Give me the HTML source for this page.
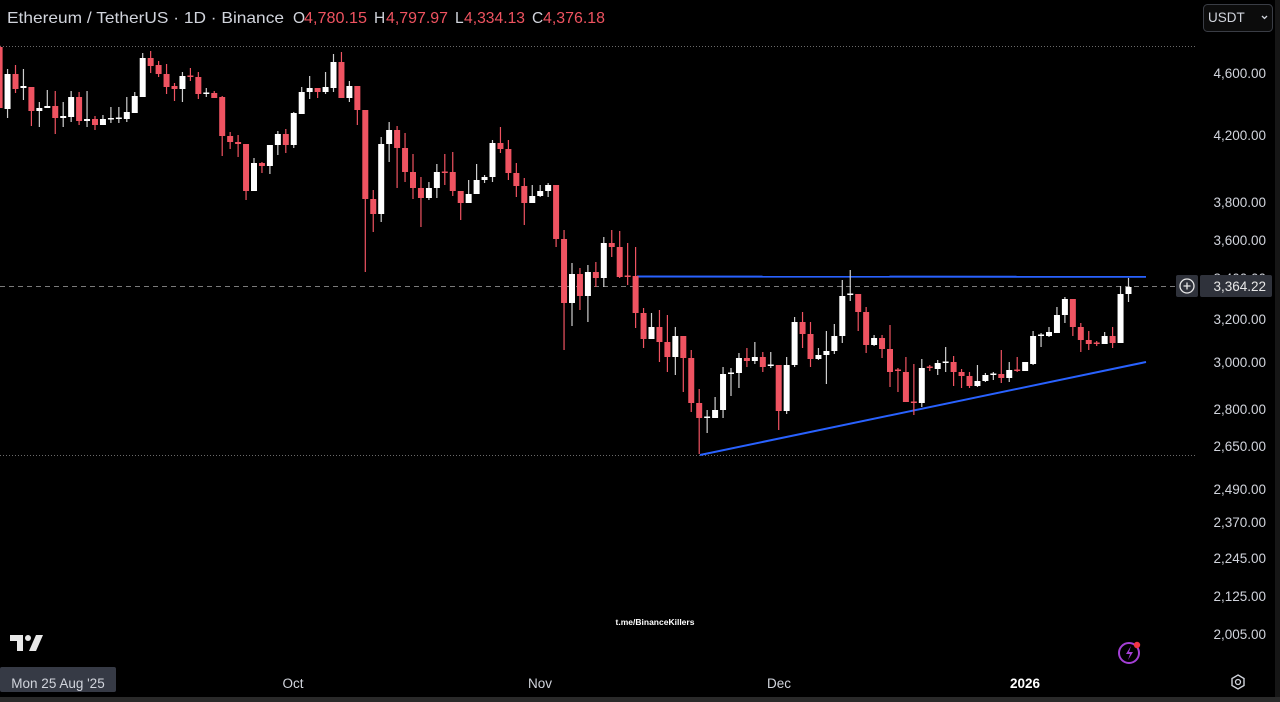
<!DOCTYPE html>
<html><head><meta charset="utf-8"><style>
html,body{margin:0;padding:0;background:#000;width:1280px;height:702px;overflow:hidden}
svg{display:block}
text{font-family:"Liberation Sans",sans-serif}
</style></head><body>
<svg id="c" width="1280" height="702" viewBox="0 0 1280 702" xmlns="http://www.w3.org/2000/svg">
<rect width="1280" height="702" fill="#000"/>
<!-- header -->
<text x="7" y="23" font-size="16" fill="#d1d4dc" textLength="277" lengthAdjust="spacingAndGlyphs">Ethereum / TetherUS · 1D · Binance</text>
<g font-size="15.5" fill="#ef5360">
<text x="293" y="23" fill="#d1d4dc">O</text><text x="304" y="23" textLength="63" lengthAdjust="spacingAndGlyphs">4,780.15</text>
<text x="374" y="23" fill="#d1d4dc">H</text><text x="386" y="23" textLength="62" lengthAdjust="spacingAndGlyphs">4,797.97</text>
<text x="455" y="23" fill="#d1d4dc">L</text><text x="464" y="23" textLength="61" lengthAdjust="spacingAndGlyphs">4,334.13</text>
<text x="532" y="23" fill="#d1d4dc">C</text><text x="543" y="23" textLength="62" lengthAdjust="spacingAndGlyphs">4,376.18</text>
</g>
<!-- USDT button -->
<rect x="1203.5" y="4.5" width="69" height="27" rx="4" fill="#0c0c0c" stroke="#3a3d45"/>
<text x="1208" y="22" font-size="13.5" fill="#d1d4dc">USDT</text>
<path d="M1262 16 l2.5 2.5 l2.5 -2.5" stroke="#d1d4dc" stroke-width="1.3" fill="none"/>
<!-- grid lines -->
<line x1="0" y1="46.5" x2="1197" y2="46.5" stroke="#6a6a6a" stroke-width="1" stroke-dasharray="1 2"/>
<line x1="0" y1="455.5" x2="1197" y2="455.5" stroke="#6a6a6a" stroke-width="1" stroke-dasharray="1 2"/>
<line x1="0" y1="286.5" x2="1176" y2="286.5" stroke="#7a7a7a" stroke-width="1" stroke-dasharray="5 4"/>
<!-- trend lines -->
<line x1="637" y1="276.5" x2="1146" y2="276.8" stroke="#2962ff" stroke-width="2"/>
<line x1="700" y1="455" x2="1146" y2="362" stroke="#2962ff" stroke-width="2"/>
<g id="candles"></g>
<!-- right axis -->
<g font-size="13.5" fill="#d1d4dc" text-anchor="end">
<text x="1266" y="78">4,600.00</text>
<text x="1266" y="140">4,200.00</text>
<text x="1266" y="207">3,800.00</text>
<text x="1266" y="245">3,600.00</text>
<text x="1266" y="283">3,400.00</text>
<text x="1266" y="324">3,200.00</text>
<text x="1266" y="367">3,000.00</text>
<text x="1266" y="414">2,800.00</text>
<text x="1266" y="451">2,650.00</text>
<text x="1266" y="494">2,490.00</text>
<text x="1266" y="527">2,370.00</text>
<text x="1266" y="563">2,245.00</text>
<text x="1266" y="601">2,125.00</text>
<text x="1266" y="639">2,005.00</text>
</g>
<!-- current price box -->
<rect x="1176" y="275" width="22" height="22" rx="2" fill="#2f323b"/>
<circle cx="1187" cy="286" r="7" fill="none" stroke="#e8e8e8" stroke-width="1.3"/>
<path d="M1183.5 286 h7 M1187 282.5 v7" stroke="#e8e8e8" stroke-width="1.3"/>
<rect x="1200" y="275" width="72" height="22" rx="2" fill="#2f323b"/>
<text x="1266" y="291" font-size="13.5" fill="#e8e8e8" text-anchor="end">3,364.22</text>
<!-- right edge -->
<rect x="1275" y="0" width="5" height="702" fill="#161616"/>
<!-- watermark -->
<text x="655" y="625" font-size="8.5" font-weight="bold" fill="#ffffff" text-anchor="middle">t.me/BinanceKillers</text>
<!-- TV logo -->
<g fill="#e8e8e8">
<rect x="10" y="635" width="13" height="6"/>
<rect x="17" y="635" width="6" height="16"/>
<circle cx="28" cy="638" r="3"/>
<path d="M36 635 h7 l-7 16 h-7 z"/>
</g>
<!-- lightning icon -->
<circle cx="1129" cy="653" r="10" fill="none" stroke="#a43fd6" stroke-width="2"/>
<path d="M1131 646 l-5 8 h4 l-2 6 l5 -8 h-4 z" fill="#a43fd6"/>
<circle cx="1137" cy="645" r="3.2" fill="#f23645"/>
<!-- time axis -->
<rect x="0" y="667" width="116" height="25" rx="2" fill="#363a45"/>
<text x="58" y="688" font-size="13.5" fill="#d1d4dc" text-anchor="middle">Mon 25 Aug '25</text>
<g font-size="13.5" fill="#d1d4dc" text-anchor="middle">
<text x="293" y="688">Oct</text>
<text x="540" y="688">Nov</text>
<text x="779" y="688">Dec</text>
<text x="1025" y="688" font-weight="bold" fill="#ffffff">2026</text>
</g>
<path d="M1238 675 l6 3.5 v7 l-6 3.5 l-6 -3.5 v-7 z" fill="none" stroke="#d1d4dc" stroke-width="1.4"/>
<circle cx="1238" cy="682" r="2.5" fill="none" stroke="#d1d4dc" stroke-width="1.3"/>
<rect x="0" y="697" width="1280" height="5" fill="#2a2a2a"/>
</svg>
<script>
var d=[
[0,'r',45,47,108,108],[1,'w',69,74,109,118],[2,'r',65,74,89,93],[3,'w',69,86,88,100],[4,'r',87,87,111,126],
[5,'w',102,108,111,127],[6,'w',90,106,108,108],[7,'r',91,106,118,134],[8,'w',102,116,118,127],[9,'w',91,97,117,122],
[10,'r',92,97,121,125],[11,'w',91,119,121,127],[12,'r',116,119,125,130],[13,'w',115,119,125,125],[14,'w',107,118,119.5,123],
[15,'w',107,117.5,119,123],[16,'w',97,112,119,122],[17,'w',92,96,113,113],[18,'w',53,58,97,97],[19,'r',51,58,66,73],
[20,'r',61,65,74,77],[21,'r',64,74,87,94],[22,'r',83,86,89,101],[23,'w',72,76,89,102],[24,'r',68,75.5,77,81],
[25,'r',72,77,94,99],[26,'w',88,92.5,94,97],[27,'r',91,93,98,98],[28,'r',96,97,136,156],[29,'r',132,136,142,149],
[30,'r',135,142,144,157],[31,'r',144,144,191,200],[32,'w',158,163,191,191],[33,'r',162,163,166,173],[34,'w',145,145,166,174],
[35,'w',131,134,145,155],[36,'r',129,134,145,153],[37,'w',112,113,145,148],[38,'w',87,92,114,114],[39,'w',76,88,92,99],
[40,'r',88,88,92,98],[41,'w',72,87,92,94],[42,'w',54,62,88,92],[43,'r',52,62,98,98],[44,'w',81,86,98,102],
[45,'r',86,86,110,125],[46,'r',110,110,199,272],[47,'r',190,199,214,232],[48,'w',137,144,214,222],[49,'w',122,130,144,162],
[50,'r',126,130,148,188],[51,'r',133,148,172,182],[52,'r',154,172,188,199],[53,'r',177,188,198,227],[54,'w',182,188,198,200],
[55,'w',164,172,188,198],[56,'r',154,171.5,173,185],[57,'r',152,172,191,196],[58,'r',191,191,203,220],[59,'w',180,194,203,203],
[60,'w',164,180,194,194],[61,'w',175,177,180,183],[62,'w',140,143,177,182],[63,'r',127,143,149,153],[64,'r',140,149,173,180],
[65,'r',163,173,186,197],[66,'r',178,186,203,225],[67,'w',185,196,203,203],[68,'w',185,191,196,197],[69,'w',183,185,191,197],
[70,'r',185,185,239,247],[71,'r',230,239,303,350],[72,'w',263,274,303,326],[73,'r',268,274,296,310],[74,'w',265,272,296,322],
[75,'r',262,272,278,287],[76,'w',237,243,278,287],[77,'r',230,243,247,257],[78,'r',231,247,277,278],[79,'r',243,275.5,277,285],
[80,'r',247,276,313,328],[81,'r',308,313,339,348],[82,'w',313,327,339,339],[83,'r',310,327,342,362],[84,'r',315,342,357,372],
[85,'w',327,336,357,375],[86,'r',336,336,358,392],[87,'r',350,358,403,412],[88,'r',389,403,418,454],[89,'w',410,416.5,418,433],
[90,'w',397,410,418,418],[91,'w',367,374,410,418],[92,'w',368,372.5,374,396],[93,'w',353,358,373,388],[94,'r',348,358,361,367],
[95,'w',342,357,361,364],[96,'r',352,357,367,372],[97,'w',352,364.5,366,368],[98,'r',365,365,411,430],[99,'w',357,365,411,414],
[100,'w',317,322,365,367],[101,'r',312,322,334,348],[102,'r',322,334,359,367],[103,'w',348,355,359,360],[104,'w',331,351,355,384],
[105,'w',324,336,351,354],[106,'w',280,296,336,343],[107,'w',270,293.5,295,301],[108,'r',294,294,312,331],[109,'r',307,312,345,353],
[110,'w',335,338,345,346],[111,'r',335,338,349,358],[112,'r',325,349,372,387],[113,'r',368,369.5,371,392],[114,'r',357,372,402,402],
[115,'r',364,401.5,403,415],[116,'w',359,368,403,407],[117,'r',365,366.5,368,371],[118,'w',360,363,369,375],[119,'w',347,361.5,363,372],
[120,'r',356,362,372,386],[121,'r',369,372,376,388],[122,'r',372,376,386,388],[123,'w',365,381,386,387],[124,'w',373,375,381,382],
[125,'w',372,373.5,375,380],[126,'r',350,374,378,383],[127,'w',362,370,378,382],[128,'r',357,369.5,371,372],[129,'w',362,362,371,371],
[130,'w',331,336,364,365],[131,'w',333,334.5,336,347],[132,'w',327,332,336,337],[133,'w',307,315,333,333],[134,'w',297,299,315,323],
[135,'r',299,299,327,336],[136,'r',323,327,340,352],[137,'r',331,340,344,350],[138,'r',341,342.5,344,346],[139,'w',332,336,344,344],
[140,'r',327,336,343,348],[141,'w',286,294,343,343],[142,'w',278,287,294,302]
];
var s='';
for(var k=0;k<d.length;k++){
 var c=d[k],cx=7.95*c[0]-0.4;
 var col=c[1]=='r'?'#ef5361':'#ffffff';
 var wc=c[1]=='r'?'#ef5361':'#cfcfcf';
 var wt=c[2],bt=c[3],bb=c[4],wb=c[5];
 if(wb>wt) s+='<rect x="'+(cx-0.6)+'" y="'+wt+'" width="1.2" height="'+(wb-wt)+'" fill="'+wc+'"/>';
 var h=Math.max(bb-bt,1.5);
 s+='<rect x="'+(cx-3)+'" y="'+bt+'" width="6" height="'+h+'" fill="'+col+'"/>';
}
document.getElementById('candles').innerHTML=s;
</script>
</body></html>
